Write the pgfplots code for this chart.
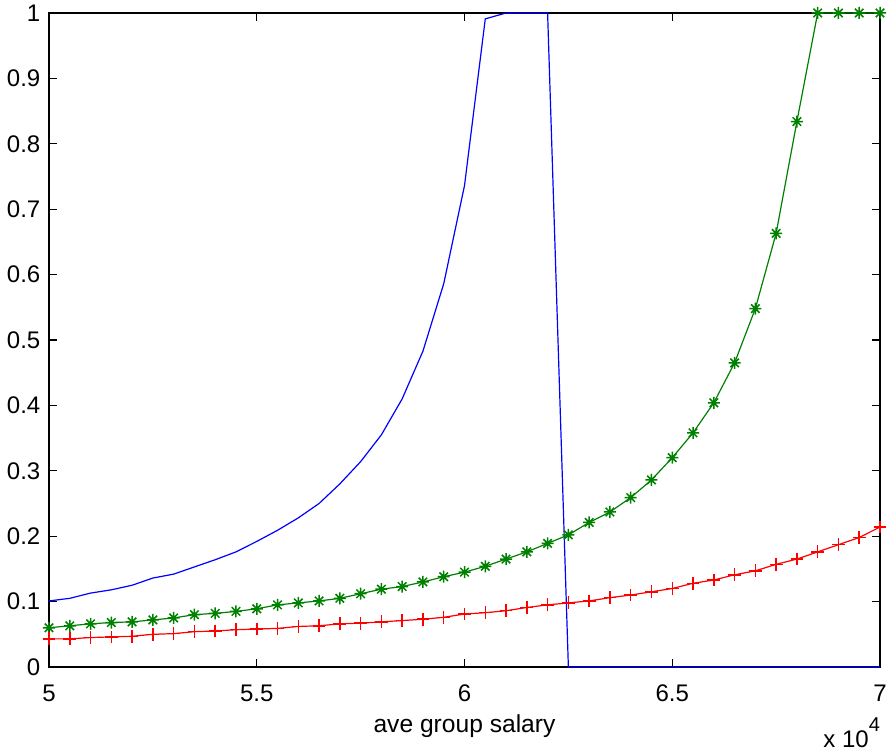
\documentclass[border=0pt]{standalone}
\usepackage{pgfplots}
\pgfplotsset{compat=1.18}
\usepackage{fontspec}
\setmainfont{Liberation Sans}
\definecolor{mblue}{RGB}{0,0,255}
\definecolor{mgreen}{RGB}{0,128,0}
\definecolor{mred}{RGB}{255,0,0}
\pgfdeclareplotmark{mstar}{%
  \pgfpathmoveto{\pgfqpoint{0pt}{\pgfplotmarksize}}%
  \pgfpathlineto{\pgfqpoint{0pt}{-\pgfplotmarksize}}%
  \pgfpathmoveto{\pgfqpoint{\pgfplotmarksize}{0pt}}%
  \pgfpathlineto{\pgfqpoint{-\pgfplotmarksize}{0pt}}%
  \pgfpathmoveto{\pgfqpoint{.7071\pgfplotmarksize}{.7071\pgfplotmarksize}}%
  \pgfpathlineto{\pgfqpoint{-.7071\pgfplotmarksize}{-.7071\pgfplotmarksize}}%
  \pgfpathmoveto{\pgfqpoint{-.7071\pgfplotmarksize}{.7071\pgfplotmarksize}}%
  \pgfpathlineto{\pgfqpoint{.7071\pgfplotmarksize}{-.7071\pgfplotmarksize}}%
  \pgfusepathqstroke}
\begin{document}
\begin{tikzpicture}
\begin{axis}[
  at={(0,0)}, anchor=south west,
  scale only axis, width=415.5pt, height=327pt,
  xmin=5, xmax=7, ymin=0, ymax=1,
  xtick={5,5.5,6,6.5,7},
  ytick={0,0.1,0.2,0.3,0.4,0.5,0.6,0.7,0.8,0.9,1},
  tick align=inside, major tick length=4pt,
  axis line style={line width=0.55pt},
  every tick/.style={black, line width=0.55pt},
  /pgf/number format/assume math mode=true,
  /pgf/number format/fixed,
  tick label style={font=\fontsize{12}{14}\selectfont},
  xticklabel style={yshift=-5.3pt},
  yticklabel style={xshift=-0.8pt},
  clip=false,
]
\addplot[mblue, line width=0.6pt] coordinates {
(5.00,0.101)(5.05,0.105)(5.10,0.113)(5.15,0.118)(5.20,0.125)(5.25,0.136)(5.30,0.142)(5.35,0.153)(5.40,0.164)(5.45,0.176)
(5.50,0.192)(5.55,0.209)(5.60,0.228)(5.65,0.250)(5.70,0.280)(5.75,0.314)(5.80,0.355)(5.85,0.410)(5.90,0.483)(5.95,0.586)
(6.00,0.736)(6.05,0.991)(6.10,1)(6.15,1)(6.20,1)(6.25,0)(6.30,0)(6.35,0)(6.40,0)(6.45,0)
(6.50,0)(6.55,0)(6.60,0)(6.65,0)(6.70,0)(6.75,0)(6.80,0)(6.85,0)(6.90,0)(6.95,0)(7.00,0)
};
\addplot[mgreen, line width=0.6pt, mark=mstar, mark size=3pt, mark options={line width=0.75pt}] coordinates {
(5.00,0.060)(5.05,0.063)(5.10,0.066)(5.15,0.068)(5.20,0.069)(5.25,0.072)(5.30,0.075)(5.35,0.080)(5.40,0.082)(5.45,0.085)
(5.50,0.089)(5.55,0.095)(5.60,0.098)(5.65,0.101)(5.70,0.105)(5.75,0.112)(5.80,0.119)(5.85,0.123)(5.90,0.130)(5.95,0.138)
(6.00,0.145)(6.05,0.154)(6.10,0.165)(6.15,0.176)(6.20,0.189)(6.25,0.202)(6.30,0.221)(6.35,0.237)(6.40,0.259)(6.45,0.286)
(6.50,0.320)(6.55,0.358)(6.60,0.404)(6.65,0.465)(6.70,0.548)(6.75,0.663)(6.80,0.834)(6.85,1)(6.90,1)(6.95,1)(7.00,1)
};
\addplot[mred, line width=0.6pt, mark=+, mark size=3.2pt, mark options={line width=0.75pt}] coordinates {
(5.00,0.043)(5.05,0.043)(5.10,0.045)(5.15,0.046)(5.20,0.047)(5.25,0.050)(5.30,0.051)(5.35,0.054)(5.40,0.055)(5.45,0.057)
(5.50,0.058)(5.55,0.059)(5.60,0.062)(5.65,0.063)(5.70,0.066)(5.75,0.067)(5.80,0.069)(5.85,0.071)(5.90,0.073)(5.95,0.076)
(6.00,0.081)(6.05,0.083)(6.10,0.086)(6.15,0.091)(6.20,0.095)(6.25,0.098)(6.30,0.101)(6.35,0.106)(6.40,0.110)(6.45,0.115)
(6.50,0.120)(6.55,0.128)(6.60,0.133)(6.65,0.141)(6.70,0.147)(6.75,0.157)(6.80,0.165)(6.85,0.176)(6.90,0.187)(6.95,0.198)(7.00,0.214)
};
\end{axis}
\node[anchor=base, inner sep=0pt, font=\fontsize{12.3}{14}\selectfont] at (207.75pt,-33pt) {ave group salary};
\node[anchor=base west, inner sep=0pt, font=\fontsize{12}{14}\selectfont] at (387pt,-40.5pt) {x 10\raisebox{8pt}{\fontsize{10}{12}\selectfont 4}};
\pgfresetboundingbox
\path[use as bounding box] (-24.5pt,-43.5pt) rectangle (420.5pt,333.5pt);
\end{tikzpicture}
\end{document}
